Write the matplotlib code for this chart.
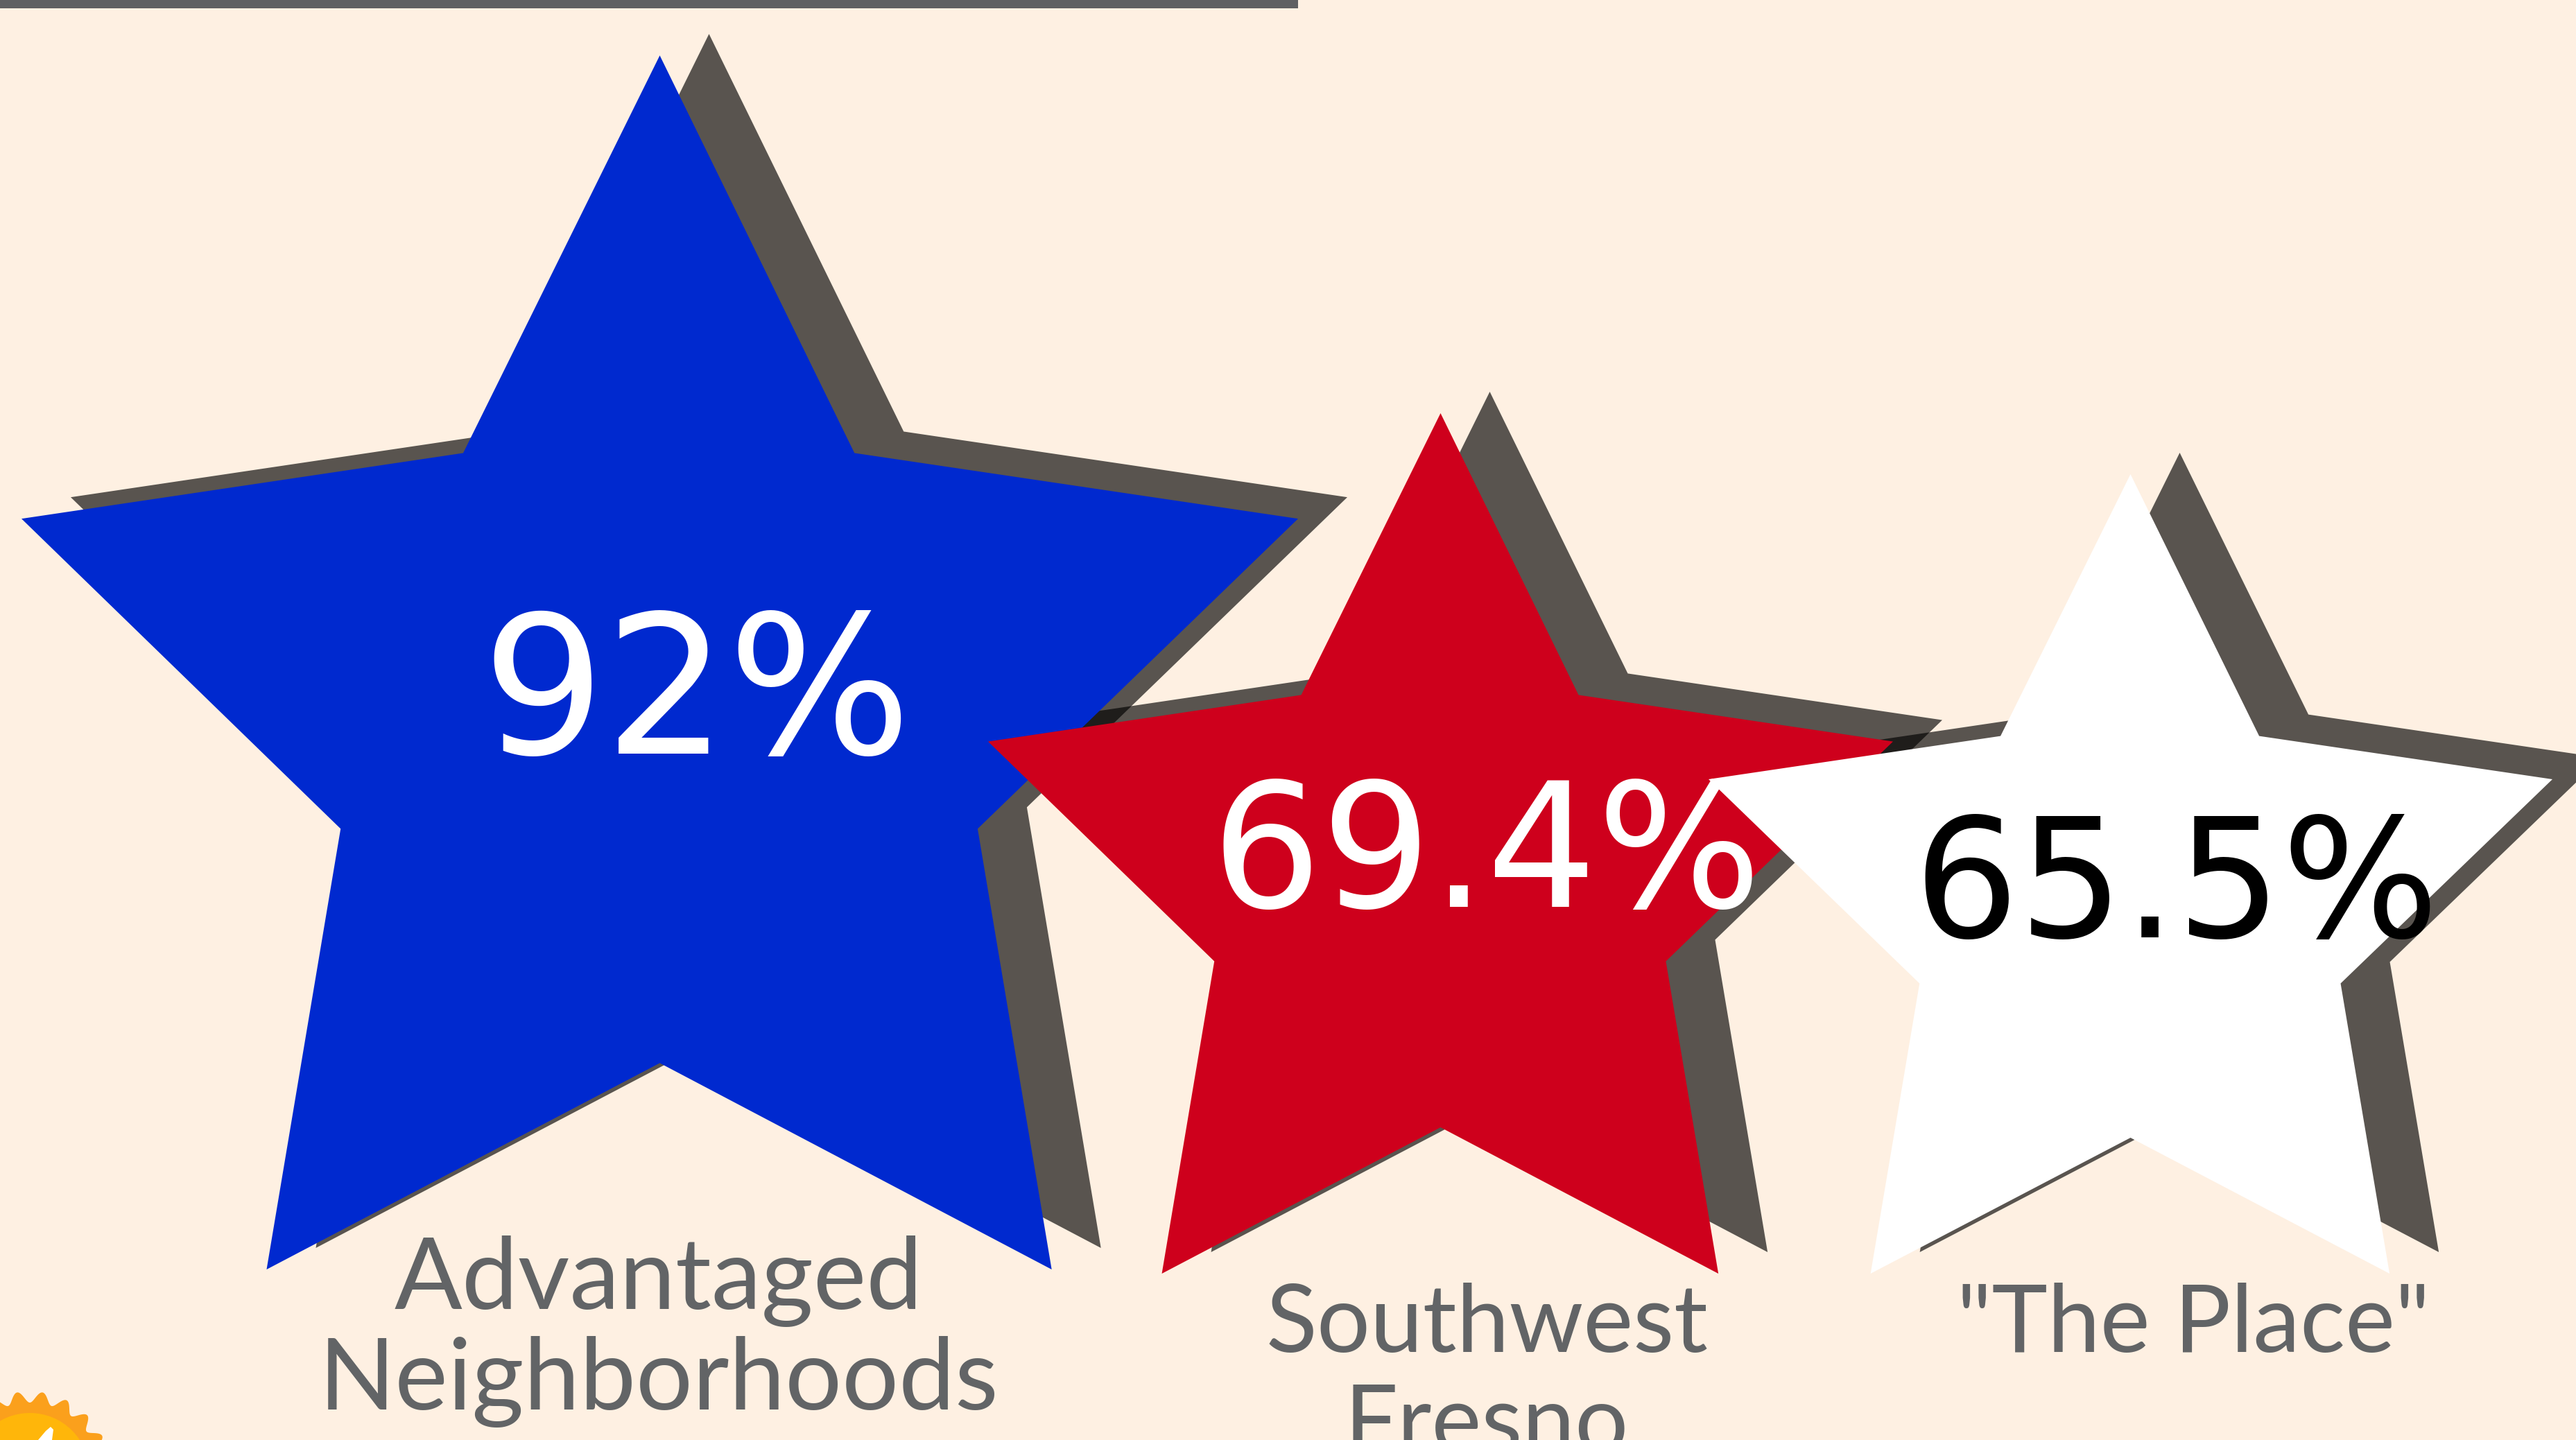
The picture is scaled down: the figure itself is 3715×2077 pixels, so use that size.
import numpy as np
import matplotlib
matplotlib.use('Agg')
import matplotlib.pyplot as plt
from matplotlib.patches import Polygon, Circle

# - Data
categories = ['Advantaged\nNeighborhoods', 'Southwest\nFresno', '"The Place"']
values = [92, 69.4, 65.5]

# - Layout in reference pixels: left, top, width, height of each star
W, H = 3715, 2077
star_boxes = [(31, 80, 1841, 1751), (1425, 596, 1305, 1241), (2464, 684, 1217, 1153)]
star_colors = ['#0029cf', '#ce001c', '#ffffff']
value_colors = ['#ffffff', '#ffffff', '#000000']
value_sizes = [201, 180, 172]
value_pos = [(1005, 1087), (2144, 1308), (3139, 1352)]
label_pos = [(950, 1888), (2144, 1950), (3163, 1950)]
label_sizes = [104, 98, 98]
label_step = 145
shadow_dx, shadow_dy = 71, -31

# star outline, as a fraction of its box
star_x = [.5, .6525, 1, .749, .807, .5, .192, .25, 0, .346]
star_y = [0, .3275, .3816, .637, 1, .83, 1, .637, .3816, .3275]

bg = '#fef0e2'
text_gray = '#626466'

fig = plt.figure(figsize=(W/100, H/100), dpi=100, facecolor=bg)
ax = fig.add_axes([0, 0, 1, 1])
ax.set_xlim(0, W)
ax.set_ylim(H, 0)
ax.axis('off')

# - Rule along the top edge
ax.fill_between([0, 1872], 0, 12, color='#5f6062', lw=0, zorder=1)

# - Shadows first, then stars, so the shadows only overlap each other
for (l, t, w, h) in star_boxes:
    pts = np.column_stack([l + shadow_dx + np.array(star_x)*w,
                           t + shadow_dy + np.array(star_y)*h])
    ax.add_patch(Polygon(pts, closed=True, fc='black', ec='none', alpha=0.65, zorder=2))
for i, (l, t, w, h) in enumerate(star_boxes):
    pts = np.column_stack([l + np.array(star_x)*w, t + np.array(star_y)*h])
    ax.add_patch(Polygon(pts, closed=True, fc=star_colors[i], ec='none', zorder=3))

# - Value labels
for i, v in enumerate(values):
    ax.text(value_pos[i][0], value_pos[i][1], f'{v:g}%', color=value_colors[i],
            fontsize=value_sizes[i], family='DejaVu Sans', ha='center',
            va='baseline', zorder=5)

# - Category labels, one text per line
for i, name in enumerate(categories):
    for j, line in enumerate(name.split('\n')):
        ax.text(label_pos[i][0], label_pos[i][1] + j*label_step, line, color=text_gray,
                fontsize=label_sizes[i], family='Lato', ha='center',
                va='baseline', zorder=5)

# - Sun in the bottom left corner
th = np.linspace(0, 2*np.pi, 1500)
r = 109 + 8*np.cos(20*(th - np.pi/2 - np.radians(9)))
ax.add_patch(Polygon(np.column_stack([43 + r*np.cos(th), 2124 - r*np.sin(th)]),
                     closed=True, fc='#fba01c', ec='none', zorder=2))
ax.add_patch(Circle((43, 2124), 86, fc='#ffb60a', ec='none', zorder=3))
ax.add_patch(Polygon([(55, 2077), (66, 2064), (73, 2058), (77, 2062), (75, 2077)],
                     closed=True, fc='white', ec='none', zorder=4))

plt.savefig('out.png', dpi=100, facecolor=bg)
